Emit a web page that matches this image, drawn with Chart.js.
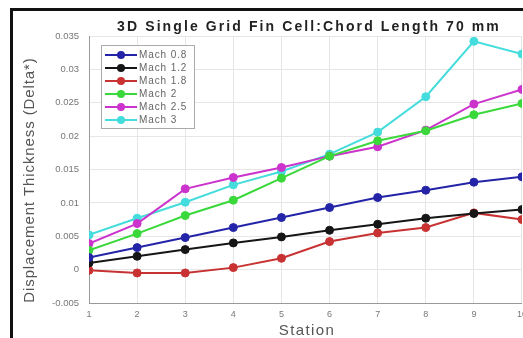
<!DOCTYPE html>
<html>
<head>
<meta charset="utf-8">
<script src="https://cdn.jsdelivr.net/npm/chart.js@4/dist/chart.umd.min.js"></script>
<style>
  html, body { margin: 0; padding: 0; background: #fff; overflow: hidden; }
  #wrap { width: 523px; height: 338px; overflow: hidden; position: relative; }
</style>
</head>
<body>
<div id="wrap"><canvas id="chart1" width="533" height="338"></canvas></div>
<script>
// station numbers along the chord
var stations = [1, 2, 3, 4, 5, 6, 7, 8, 9, 10];
var yTicks = [-0.005, 0, 0.005, 0.01, 0.015, 0.02, 0.025, 0.03, 0.035];

var mach08 = [0.0018, 0.0033, 0.0048, 0.0063, 0.0078, 0.0093, 0.0108, 0.0119, 0.0131, 0.0139];
var mach12 = [0.0010, 0.0020, 0.0030, 0.0040, 0.0049, 0.0059, 0.0068, 0.0077, 0.0084, 0.0090];
var mach18 = [-0.0001, -0.0005, -0.0005, 0.0003, 0.0017, 0.0042, 0.0055, 0.0063, 0.0085, 0.0075];
var mach2 = [0.0029, 0.0054, 0.0081, 0.0104, 0.0137, 0.0170, 0.0193, 0.0208, 0.0232, 0.0249];
var mach25 = [0.0039, 0.0069, 0.0121, 0.0138, 0.0153, 0.0170, 0.0184, 0.0209, 0.0248, 0.0270];
var mach3 = [0.0052, 0.0077, 0.0101, 0.0127, 0.0147, 0.0173, 0.0206, 0.0259, 0.0342, 0.0323];

var seriesNames = ['Mach 0.8', 'Mach 1.2', 'Mach 1.8', 'Mach 2', 'Mach 2.5', 'Mach 3'];
var seriesData = [mach08, mach12, mach18, mach2, mach25, mach3];
var colors = ['#2424a8', '#161616', '#c83232', '#3ad83a', '#cc33cc', '#44dcdc'];

var FONT = '"Liberation Sans", Arial, sans-serif';

function toPoints(arr){
    var pts = [];
    for(var i = 0; i < stations.length; i++){
        pts.push({x: stations[i], y: arr[i]});
    }
    return pts;
}

var datasets = [];
for(var i = 0; i < seriesNames.length; i++){
    datasets.push({
        label: seriesNames[i],
        data: toPoints(seriesData[i]),
        borderColor: colors[i],
        backgroundColor: colors[i],
        borderWidth: 2,
        pointRadius: 4,
        pointBorderWidth: 1,
        tension: 0
    });
}

// white page with the black frame of the figure
var framePlugin = {
    id: 'frame',
    beforeDraw: function(chart){
        var ctx = chart.ctx;
        ctx.save();
        ctx.fillStyle = '#fff';
        ctx.fillRect(0, 0, chart.width, chart.height);
        ctx.fillStyle = '#111';
        ctx.fillRect(10, 8, 3, chart.height);
        ctx.fillRect(10, 8, chart.width, 3);
        ctx.restore();
    }
};

// title and axis titles (drawn here to get the wide letter spacing)
var textPlugin = {
    id: 'figText',
    afterDraw: function(chart){
        var ctx = chart.ctx;
        ctx.save();
        ctx.textAlign = 'center';
        ctx.textBaseline = 'middle';
        ctx.font = 'bold 14px ' + FONT;
        ctx.letterSpacing = '2.1px';
        ctx.fillStyle = '#222';
        ctx.fillText('3D Single Grid Fin Cell:Chord Length 70 mm', 309, 27);

        ctx.font = '15px ' + FONT;
        ctx.letterSpacing = '1.4px';
        ctx.fillStyle = '#555';
        ctx.fillText('Station', 307, 331);

        ctx.translate(30, 180);
        ctx.rotate(-Math.PI / 2);
        ctx.letterSpacing = '0.9px';
        ctx.fillText('Displacement Thickness (Delta*)', 0, 0);
        ctx.restore();
    }
};

var legendPlugin = {
    id: 'boxLegend',
    afterDraw: function(chart){
        var ctx = chart.ctx;
        ctx.save();
        ctx.fillStyle = '#fff';
        ctx.fillRect(101, 45, 93, 83);
        ctx.strokeStyle = '#aaa';
        ctx.lineWidth = 1;
        ctx.strokeRect(101.5, 45.5, 93, 83);
        ctx.font = '10px ' + FONT;
        ctx.letterSpacing = '0.9px';
        ctx.textBaseline = 'middle';
        for(var i = 0; i < seriesNames.length; i++){
            var y = 55 + i * 13;
            ctx.strokeStyle = colors[i];
            ctx.lineWidth = 2;
            ctx.beginPath();
            ctx.moveTo(105, y);
            ctx.lineTo(137, y);
            ctx.stroke();
            ctx.fillStyle = colors[i];
            ctx.beginPath();
            ctx.arc(121, y, 4, 0, Math.PI * 2);
            ctx.fill();
            ctx.fillStyle = '#666';
            ctx.fillText(seriesNames[i], 139, y);
        }
        ctx.restore();
    }
};

var ctx = document.getElementById('chart1').getContext('2d');
var myChart = new Chart(ctx, {
    type: 'line',
    data: { datasets: datasets },
    plugins: [framePlugin, textPlugin, legendPlugin],
    options: {
        responsive: false,
        animation: false,
        devicePixelRatio: 1,
        layout: { padding: { left: 0, top: 36, right: 8, bottom: 0 } },
        plugins: {
            legend: { display: false },
            tooltip: { enabled: false }
        },
        scales: {
            x: {
                type: 'linear',
                min: 1,
                max: 10,
                afterBuildTicks: function(scale){
                    scale.ticks = stations.map(function(v){ return {value: v}; });
                },
                afterFit: function(scale){ scale.height = 35; },
                ticks: {
                    color: '#777',
                    font: { size: 9, family: FONT },
                    padding: 6,
                    maxRotation: 0
                },
                grid: { color: '#e6e6e6', drawTicks: false },
                border: { color: '#999' }
            },
            y: {
                min: -0.005,
                max: 0.035,
                afterBuildTicks: function(scale){
                    scale.ticks = yTicks.map(function(v){ return {value: v}; });
                },
                afterFit: function(scale){ scale.width = 89; },
                ticks: {
                    color: '#777',
                    font: { size: 9.5, family: FONT },
                    padding: 10,
                    callback: function(v){ return String(+v.toFixed(3)); }
                },
                grid: { color: '#e6e6e6', drawTicks: false },
                border: { color: '#999' }
            }
        }
    }
});
</script>
</body>
</html>
